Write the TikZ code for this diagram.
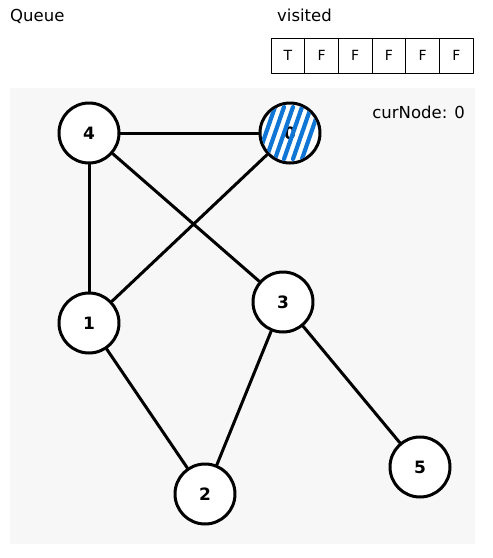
\documentclass[tikz,border=0pt]{standalone}
\usepackage{fontspec}
\setmainfont{DejaVu Sans}
\begin{document}
\begin{tikzpicture}[x=1pt,y=-1pt,line cap=round,line join=round,
  vertex/.style={circle,draw,line width=3pt,fill=white,minimum size=60pt,inner sep=0pt,font=\bfseries\fontsize{17}{17}\selectfont},
  edge/.style={line width=3pt},
  cell/.style={draw,line width=1pt,minimum width=33.7pt,minimum height=35pt,inner sep=0pt,font=\fontsize{14}{14}\selectfont}]
  \useasboundingbox (0,0) rectangle (493,558);
  \fill[black!3] (10,88) rectangle (475,544);
  % labels
  \node[anchor=base west,inner sep=0pt,font=\fontsize{16.5}{17}\selectfont] (queue) at (10,21) {Queue};
  \node[anchor=base west,inner sep=0pt,font=\fontsize{16.5}{17}\selectfont] (visited) at (277,21) {visited};
  \node[anchor=base east,inner sep=0pt,font=\fontsize{16.5}{17}\selectfont] (cur) at (465,118) {curNode: 0};
  \foreach \i/\v in {0/T,1/F,2/F,3/F,4/F,5/F}{\node[cell] (v\i) at (287.85+33.7*\i,55.5) {\v};}
  % graph
  \node[vertex] (n4) at (89,133) {4};
  \node[vertex] (n0) at (290,133) {0};
  \node[vertex] (n1) at (89,323) {1};
  \node[vertex] (n3) at (283,302) {3};
  \node[vertex] (n2) at (205,494) {2};
  \node[vertex] (n5) at (420,467) {5};
  \draw[edge] (n4)--(n0);
  \draw[edge] (n4)--(n1);
  \draw[edge] (n4)--(n3);
  \draw[edge] (n0)--(n1);
  \draw[edge] (n1)--(n2);
  \draw[edge] (n3)--(n2);
  \draw[edge] (n3)--(n5);
  \begin{scope}
    \clip (n0.center) circle (28.5);
    \foreach \dx in {-24,-15,-6,3,12,21}{\draw[line width=4.2pt,color={rgb,255:red,16;green,118;blue,214}] ([shift={(\dx-9,26)}]n0.center)--([shift={(\dx+9,-26)}]n0.center);}
  \end{scope}
\end{tikzpicture}
\end{document}
